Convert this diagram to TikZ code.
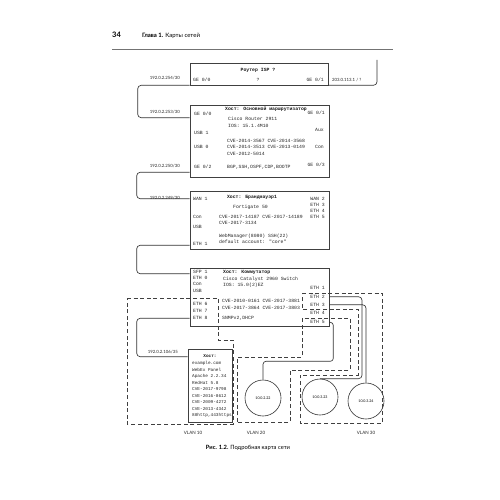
\documentclass[tikz,border=0pt]{standalone}
\usepackage{fontspec}
\newfontfamily\monof{Liberation Mono}
\newfontfamily\sansf{Lato}
\usetikzlibrary{calc}
\begin{document}
\begin{tikzpicture}[x=1pt,y=-1pt,
  mono/.style={font=\monof\fontsize{4.8}{5}\selectfont, inner sep=0pt, anchor=west, text=black!85, text height=2.8pt, text depth=0pt},
  monor/.style={mono, anchor=east},
  monob/.style={font=\monof\bfseries\fontsize{4.8}{5}\selectfont, inner sep=0pt, text=black!90, text height=2.8pt, text depth=0pt},
  hmono/.style={mono, font=\monof\fontsize{4.4}{5}\selectfont},
  ip/.style={font=\sansf\fontsize{4.3}{5}\selectfont, inner sep=0pt, text=black!85, text height=3pt, text depth=0pt},
  box/.style={draw=black!75, line width=0.6pt, inner sep=0pt},
  conn/.style={draw=black!80, line width=0.65pt, rounded corners=3.5pt},
  vlan/.style={draw=black!75, line width=0.6pt, dash pattern=on 4pt off 2.6pt},
  circ/.style={circle, draw=black!80, line width=0.6pt, minimum size=36pt, inner sep=0pt, font=\sansf\fontsize{3.6}{4}\selectfont},
  vlbl/.style={font=\sansf\fontsize{4.5}{5}\selectfont, inner sep=0pt, text=black!85}
]
\useasboundingbox (0,0) rectangle (500,500);
\fill[white] (0,0) rectangle (500,500);

% header
\node[anchor=base west, inner sep=0pt, font=\sansf\bfseries\fontsize{7.5}{8}\selectfont] (pg) at (112,38) {34};
\node[anchor=base west, inner sep=0pt, font=\sansf\fontsize{6}{6}\selectfont] (hd) at (142,38) {{\bfseries Глава 1.} Карты сетей};
\coordinate (hl1) at (112,49.5);
\coordinate (hl2) at (393,49.5);
\draw[black!55, line width=0.5pt] (hl1) -- (hl2);

% ISP router
\node[box, minimum width=138pt, minimum height=22pt] (isp) at (259,74) {};
\node[monob] (ispt) at (258,70) {Роутер ISP ?};
\node[mono] (isp0) at (193,80) {GE 0/0};
\node[mono, anchor=center] (ispq) at (258,80) {?};
\node[monor] (isp1) at (324,80) {GE 0/1};
\node[ip, anchor=east] (ipA) at (180,78) {192.0.2.254/30};
\node[ip, anchor=west] (ipB) at (332,80) {203.0.113.1 / ?};

% main router
\node[box, minimum width=139pt, minimum height=72pt] (main) at (259.5,141) {};
\node[monob] (mt) at (266,109) {Хост: Основной маршрутизатор};
\node[mono] (m1) at (194,114) {GE 0/0};
\node[monor] (m2) at (325,113) {GE 0/1};
\node[mono] (m3) at (228,119) {Cisco Router 2911};
\node[mono] (m4) at (228,126) {IOS: 15.1.4M10};
\node[mono] (m5) at (194,133) {USB 1};
\node[monor] (m6) at (324,130) {Aux};
\node[mono] (m7) at (227,141) {CVE-2014-3567 CVE-2014-3568};
\node[mono] (m8) at (227,147.5) {CVE-2014-3513 CVE-2013-0149};
\node[mono] (m9) at (227,154) {CVE-2012-5014};
\node[mono] (m10) at (194,147) {USB 0};
\node[monor] (m11) at (324,147) {Con};
\node[mono] (m12) at (194,167) {GE 0/2};
\node[mono] (m13) at (227,167) {BGP,SSH,OSPF,CDP,BOOTP};
\node[monor] (m14) at (325,165) {GE 0/3};
\node[ip, anchor=east] (ipC) at (180,112) {192.0.2.253/30};
\node[ip, anchor=east] (ipD) at (180,166) {192.0.2.250/30};

% firewall
\node[box, minimum width=139pt, minimum height=58pt] (fw) at (259.5,220) {};
\node[monob] (ft) at (252,197) {Хост: Брандмауэр1};
\node[mono] (f1) at (233,207) {Fortigate 50};
\node[mono] (f2) at (193,199) {WAN 1};
\node[mono] (f3) at (193,217) {Con};
\node[mono] (f4) at (193,227) {USB};
\node[mono] (f5) at (193,244) {ETH 1};
\node[monor] (f6) at (325,199) {WAN 2};
\node[monor] (f7) at (325,205) {ETH 3};
\node[monor] (f8) at (325,211) {ETH 4};
\node[monor] (f9) at (325,217) {ETH 5};
\node[mono] (f10) at (219,217) {CVE-2017-14187 CVE-2017-14189};
\node[mono] (f11) at (219,223) {CVE-2017-3134};
\node[mono] (f12) at (219,236) {WebManager(8080) SSH(22)};
\node[mono] (f13) at (219,242) {default account: "core"};
\node[ip, anchor=east] (ipE) at (180,198) {192.0.2.249/30};

% switch
\node[box, minimum width=139pt, minimum height=58pt] (sw) at (259.5,297) {};
\node[mono] (s1) at (193,272) {SFP 1};
\node[mono] (s2) at (193,278) {ETH 0};
\node[mono] (s3) at (193,284) {Con};
\node[mono] (s4) at (193,291) {USB};
\node[mono] (s5) at (193,304) {ETH 6};
\node[mono] (s6) at (193,311) {ETH 7};
\node[mono] (s7) at (193,318) {ETH 8};
\node[monob, anchor=west] (st) at (223,272) {Хост: Коммутатор};
\node[mono] (s8) at (223,279) {Cisco Catalyst 2960 Switch};
\node[mono] (s9) at (223,285) {IOS: 15.0(2)EZ};
\node[mono] (s10) at (222,301) {CVE-2010-0161 CVE-2017-3881};
\node[mono] (s11) at (222,308) {CVE-2017-3864 CVE-2017-3803};
\node[mono] (s12) at (222,318) {SNMPv2,DHCP};
\node[monor] (e1) at (325,288) {ETH 1};
\node[monor] (e2) at (325,297) {ETH 2};
\node[monor] (e3) at (325,305) {ETH 3};
\node[monor] (e4) at (325,313) {ETH 4};
\node[monor] (e5) at (325,322) {ETH 5};

% host
\node[box, minimum width=44pt, minimum height=73pt] (host) at (210,385.5) {};
\node[monob, font=\monof\bfseries\fontsize{4.4}{5}\selectfont] (ht) at (210,356) {Хост:};
\node[hmono] (h1) at (192,363) {example.com};
\node[hmono] (h2) at (192,370) {WebEx Panel};
\node[hmono] (h3) at (192,376) {Apache 2.2.34};
\node[hmono] (h4) at (192,383) {RedHat 5.8};
\node[hmono] (h5) at (192,389) {CVE-2017-9798};
\node[hmono] (h6) at (192,396) {CVE-2016-8612};
\node[hmono] (h7) at (192,402) {CVE-2009-4272};
\node[hmono] (h8) at (192,409) {CVE-2013-4342};
\node[hmono] (h9) at (192,415) {80http,443https};
\node[ip, anchor=east] (ipF) at (178,352) {192.0.2.106/35};

% end hosts
\node[circ] (c22) at (263,398) {10.0.2.22};
\node[circ] (c23) at (320,397) {10.0.3.23};
\node[circ] (c24) at (366,401) {10.0.3.24};

% VLAN areas
\draw[vlan] (127,298) -- (218,298) -- (218,340) -- (233,340) -- (233,424) -- (127,424) -- cycle;
\draw[vlan] (237,422) -- (237,357) -- (302,357) -- (302,318) -- (350,318) -- (350,370) -- (290,370) -- (290,422) -- cycle;
\draw[vlan] (302,293) -- (382,293) -- (382,423) -- (300,423) -- (300,375) -- (358,375) -- (358,309) -- (302,309) -- cycle;
\node[vlbl] (v10) at (193,433) {VLAN 10};
\node[vlbl] (v20) at (256,433) {VLAN 20};
\node[vlbl] (v30) at (366,433) {VLAN 30};

% connectors
\coordinate (ispend) at (377,60);
\draw[conn] (isp.south west) -| ($(main.north west)+(-52,13)$) -- ($(main.north west)+(0,13)$);
\draw[conn] (isp.south east) -| (ispend);
\draw[conn] ($(main.south west)+(0,-5)$) -| ($(fw.north west)+(-53,8)$) -- ($(fw.north west)+(0,8)$);
\draw[conn] ($(fw.south west)+(0,-4)$) -| ($(sw.north west)+(-53,6)$) -- ($(sw.north west)+(0,6)$);
\draw[conn] ($(sw.south west)+(0,-8)$) -| ($(host.north west)+(-51,8)$) -- ($(host.north west)+(0,8)$);
\draw[conn, rounded corners=3pt] ($(sw.south east)+(0,-4)$) -- ++(4,0) -- ++(0,39) -| (c22.north);
\draw[conn] ($(sw.north east)+(0,29)$) -| ($(c23.north)+(42,0)$) -- (c23.north);
\draw[conn] ($(sw.north east)+(0,37)$) -| (c24.north);

% caption
\node[inner sep=0pt, font=\sansf\fontsize{5.8}{6}\selectfont] (cap) at (248,448) {{\bfseries Рис. 1.2.} Подробная карта сети};
\end{tikzpicture}
\end{document}
